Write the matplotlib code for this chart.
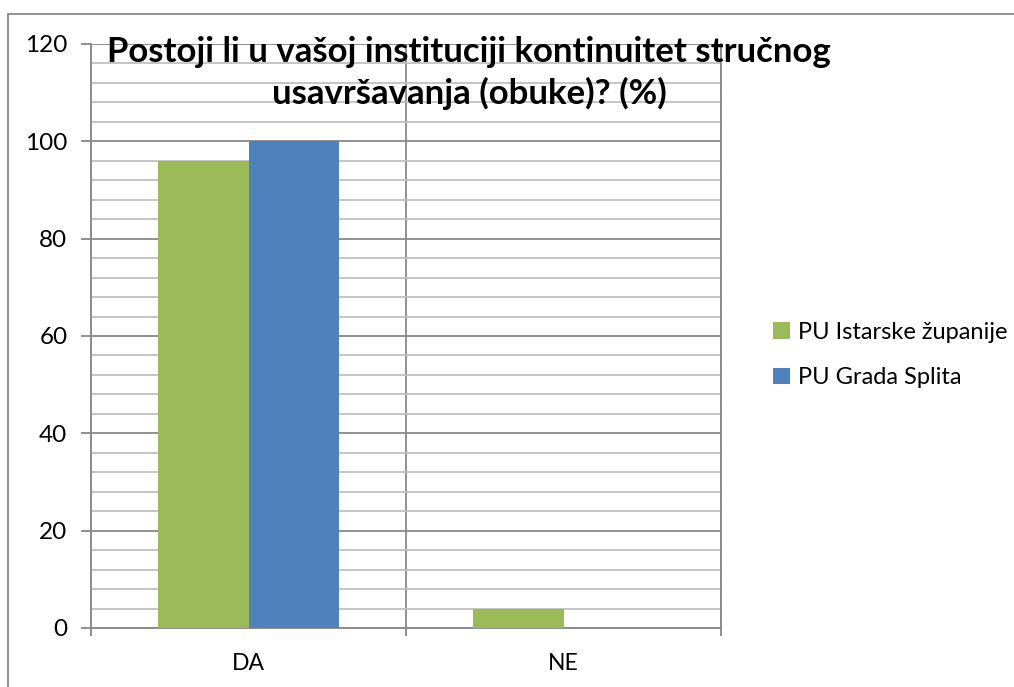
import matplotlib
matplotlib.use("Agg")
import matplotlib.pyplot as plt
import numpy as np
from matplotlib.patches import Rectangle

categories = ["DA", "NE"]
series_names = ["PU Istarske županije", "PU Grada Splita"]
istra = [96, 4]
split = [100, 0]
colors = ["#9BBB59", "#4F81BD"]
title = "Postoji li u vašoj instituciji kontinuitet stručnog\nusavršavanja (obuke)? (%)"

plt.rcParams['font.family'] = ['Lato', 'DejaVu Sans']

fig = plt.figure(figsize=(10.14, 6.87), dpi=100)
ax = fig.add_axes([91/1014, 1-628/687, (721-91)/1014, (628-44)/687])

x = np.arange(len(categories))
w = 0.286
ax.bar(x - w/2, istra, w, color=colors[0], label=series_names[0], zorder=3)
ax.bar(x + w/2, split, w, color=colors[1], label=series_names[1], zorder=3)

ax.set_xlim(-0.5, len(categories) - 0.5)
ax.set_ylim(0, 120)
ax.set_yticks(np.arange(0, 121, 20))
ax.set_yticks(np.arange(0, 121, 4), minor=True)
ax.grid(axis='y', which='minor', color='#C0C0C0', linewidth=1.3, zorder=0)
ax.grid(axis='y', which='major', color='#888888', linewidth=1.3, zorder=1)
ax.set_xticks(x)
ax.set_xticklabels(categories)
ax.set_xticks(np.arange(-0.5, len(categories), 1.0), minor=True)
ax.grid(axis='x', which='minor', color='#888888', linewidth=1.3, zorder=1)
ax.tick_params(axis='x', which='major', length=0, pad=18, labelsize=16.5)
ax.tick_params(axis='x', which='minor', length=6, color='#888888', width=1.3, direction='out')
ax.tick_params(axis='y', which='major', length=7, color='#888888', width=1.3, labelsize=17.5, pad=10)
ax.tick_params(axis='y', which='minor', length=0)
for s in ['top']:
    ax.spines[s].set_visible(False)
for s in ['left', 'bottom', 'right']:
    ax.spines[s].set_color('#888888')
    ax.spines[s].set_linewidth(1.3)

fig.text(469/1014, 1-73/687, title, ha='center', va='center', fontsize=25,
         fontweight='bold', linespacing=1.33)

fig.legend(loc='center left', bbox_to_anchor=(752/1014, 1-355/687), frameon=False,
           fontsize=17, handlelength=0.7, handleheight=0.7, handletextpad=0.35,
           labelspacing=1.05)

fig.add_artist(Rectangle((8/1014, -0.01), 1.1, 1-14/687 + 0.01, transform=fig.transFigure,
                         fill=False, edgecolor='#888888', linewidth=1.3))

fig.savefig("out.png", dpi=100)
